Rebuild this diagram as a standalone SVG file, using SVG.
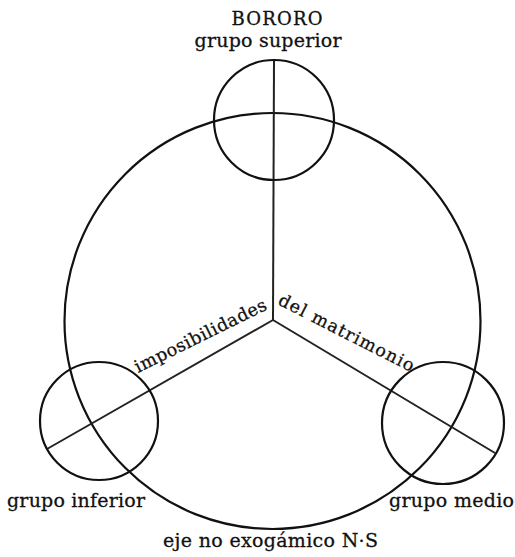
<svg xmlns="http://www.w3.org/2000/svg" width="515" height="557" viewBox="0 0 515 557">
<style>
.c{fill:none;stroke:#111;stroke-width:2.2}
.s{stroke:#222;stroke-width:2;fill:none}
.t{font-family:"DejaVu Serif","Liberation Serif",serif;fill:#111;stroke:#111;stroke-width:0.3}
</style>
<rect width="515" height="557" fill="#fff"/>
<g id="big-circle"><circle class="c" cx="272.5" cy="321" r="208"/></g>
<g id="connectors">
<line class="s" x1="273" y1="320" x2="274" y2="60"/>
<line class="s" x1="273" y1="320" x2="47" y2="449"/>
<line class="s" x1="273" y1="320" x2="495" y2="453"/>
</g>
<g id="grupo-superior">
<circle class="c" cx="274" cy="120" r="60"/>
<text class="t" x="277" y="25" font-size="18" text-anchor="middle" textLength="91" lengthAdjust="spacing">BORORO</text>
<text class="t" x="268" y="47" font-size="19" text-anchor="middle" textLength="147" lengthAdjust="spacing">grupo superior</text>
</g>
<g id="grupo-inferior">
<circle class="c" cx="99" cy="421" r="59"/>
<text class="t" x="7" y="507" font-size="19" textLength="138" lengthAdjust="spacing">grupo inferior</text>
</g>
<g id="grupo-medio">
<circle class="c" cx="443" cy="423" r="61"/>
<text class="t" x="389" y="507" font-size="19" textLength="125" lengthAdjust="spacing">grupo medio</text>
</g>
<g id="labels">
<text class="t" x="0" y="0" font-size="17.5" textLength="145" lengthAdjust="spacing" transform="translate(138,373) rotate(-26.2)">imposibilidades</text>
<text class="t" x="0" y="0" font-size="17.5" textLength="150" lengthAdjust="spacing" transform="translate(277,304) rotate(27)">del matrimonio</text>
<text class="t" x="163" y="547" font-size="19" textLength="215" lengthAdjust="spacing">eje no exogámico N·S</text>
</g>
</svg>
